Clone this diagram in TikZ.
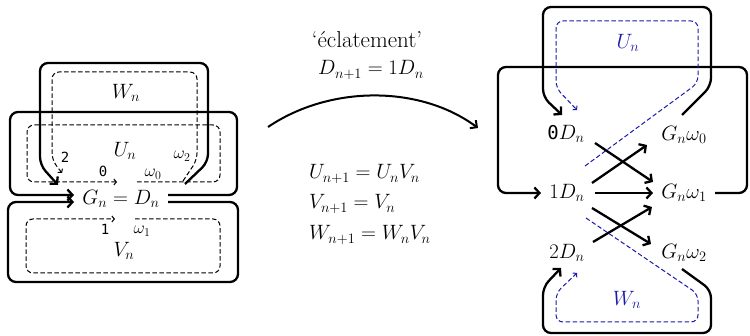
\documentclass[tikz,border=0pt]{standalone}
\usepackage{fontspec}
\newfontfamily\monof{DejaVu Sans Mono}
\usetikzlibrary{arrows.meta,calc}
\definecolor{dblue}{RGB}{25,25,170}
\begin{document}
\begin{tikzpicture}[x=1pt,y=-1pt,
  solidline/.style={line width=2.3pt, rounded corners=8pt},
  dashline/.style={line width=1pt, dash pattern=on 4.5pt off 2.5pt, rounded corners=7pt},
  bigtip/.style={-{Straight Barb[length=5pt,width=11pt]}},
  smalltip/.style={-{Straight Barb[length=2.5pt,width=6pt]}},
  lbl/.style={font=\fontsize{22}{26}\selectfont, inner sep=0pt},
  eqlbl/.style={font=\fontsize{21}{25}\selectfont, inner sep=0pt},
  rlbl/.style={font=\fontsize{22}{26}\selectfont, inner sep=0pt},
  small/.style={font=\fontsize{17}{20}\selectfont, inner sep=0pt},
  digit/.style={font=\fontsize{14}{17}\selectfont\monof, inner sep=0pt},
  bluelbl/.style={lbl, text=dblue}]
\useasboundingbox (0,0) rectangle (750,336);

% ---------- left diagram ----------
\node[font=\fontsize{21}{25}\selectfont, inner sep=0pt] (gd) at (121,199) {$G_n = D_n$};
\node[lbl] (wn) at (126,93) {$W_n$};
\node[lbl] (un) at (125,151) {$U_n$};
\node[lbl] (vn) at (124,251) {$V_n$};
\node[digit] (l2) at (65,157) {2};
\node[digit] (l0) at (103,171) {0};
\node[small] (lw0) at (153,174) {$\omega_0$};
\node[small] (lw2) at (182,156) {$\omega_2$};
\node[digit] (l1) at (105,229) {1};
\node[small] (lw1) at (142,231) {$\omega_1$};

\coordinate (wS) at (185,184);
\coordinate (wE) at (58,185);
\coordinate (uS) at (168,195);
\coordinate (uE) at (74,195);
\coordinate (vS) at (168,202);
\coordinate (vE) at (74,202);

\draw[solidline,bigtip] (wS) -- (208,162) -- (208,63) -- (40,63) -- (40,165) -- (wE);
\draw[solidline,bigtip] (uS) -- (237,195) -- (237,112) -- (10,112) -- (10,195) -- (uE);
\draw[solidline,bigtip] (vS) -- (238,202) -- (238,282) -- (8,282) -- (8,202) -- (vE);

\draw[dashline,smalltip] (183,181) -- (197,160) -- (197,72) -- (52,72) -- (52,160) -- (62,173);
\draw[dashline,smalltip] (137,182) -- (220,182) -- (220,125) -- (27,125) -- (27,182) -- (117,182);
\draw[dashline,smalltip] (135,219) -- (220,219) -- (220,273) -- (26,273) -- (26,219) -- (115,219);

% ---------- middle ----------
\node[font=\fontsize{23}{27}\selectfont, inner sep=0pt] (ecl) at (367,40) {‘éclatement’};
\node[font=\fontsize{20}{24}\selectfont, inner sep=0pt] (dn1) at (371,70) {$D_{n+1} = 1D_n$};
\coordinate (arcL) at (268,127);
\coordinate (arcR) at (478,128);
\draw[line width=2pt, -{Straight Barb[length=5pt,width=10pt]}] (arcL) .. controls (330,85) and (420,85) .. (arcR);
\node[eqlbl, anchor=base west] (e1) at (309,179) {$U_{n+1} = U_nV_n$};
\node[eqlbl, anchor=base west] (e2) at (309,209) {$V_{n+1} = V_n$};
\node[eqlbl, anchor=base west] (e3) at (309,240) {$W_{n+1} = W_nV_n$};

% ---------- right diagram ----------
\node[rlbl] (d0) at (566,134) {{\fontsize{19}{22}\selectfont\monof 0}$D_n$};
\node[rlbl] (d1) at (567,193) {$1D_n$};
\node[rlbl] (d2) at (567,253) {$2D_n$};
\node[rlbl] (g0) at (684,135) {$G_n\omega_0$};
\node[rlbl] (g1) at (684,193) {$G_n\omega_1$};
\node[rlbl] (g2) at (684,253) {$G_n\omega_2$};
\node[bluelbl] (bu) at (628,43) {$U_n$};
\node[bluelbl] (bw) at (627,300) {$W_n$};

% crossing arrows
\draw[line width=2.3pt, bigtip] ($(d0)+(29,9)$) -- ($(g1)+(-31,-11)$);
\draw[line width=2.3pt, bigtip] ($(d1)+(25,-10)$) -- ($(g0)+(-37,10)$);
\draw[line width=2.3pt, bigtip] ($(d1)+(28,0)$) -- ($(g1)+(-31,0)$);
\draw[line width=2.3pt, bigtip] ($(d1)+(25,15)$) -- ($(g2)+(-33,-9)$);
\draw[line width=2.3pt, bigtip] ($(d2)+(26,-11)$) -- ($(g1)+(-32,14)$);

% loops
\coordinate (ruS) at (682,115);
\coordinate (ruE) at (562,115);
\coordinate (rvS) at (715,193);
\coordinate (rvE) at (541,193);
\coordinate (rwS) at (682,269);
\coordinate (rwE) at (561,268);
\draw[solidline,bigtip] (ruS) -- (711,86) -- (711,7) -- (543,7) -- (543,97) -- (ruE);
\draw[solidline,bigtip] (rvS) -- (747,193) -- (747,67) -- (498,67) -- (498,193) -- (rvE);
\draw[solidline,bigtip] (rwS) -- (711,290) -- (711,333) -- (543,333) -- (543,287) -- (rwE);

\draw[dashline,smalltip,dblue] (585,166) -- (698,83) -- (698,21) -- (556,21) -- (556,88) -- (577,110);
\draw[dashline,smalltip,dblue] (586,218) -- (698,294) -- (698,322) -- (556,322) -- (556,293) -- (577,273);
\end{tikzpicture}
\end{document}
